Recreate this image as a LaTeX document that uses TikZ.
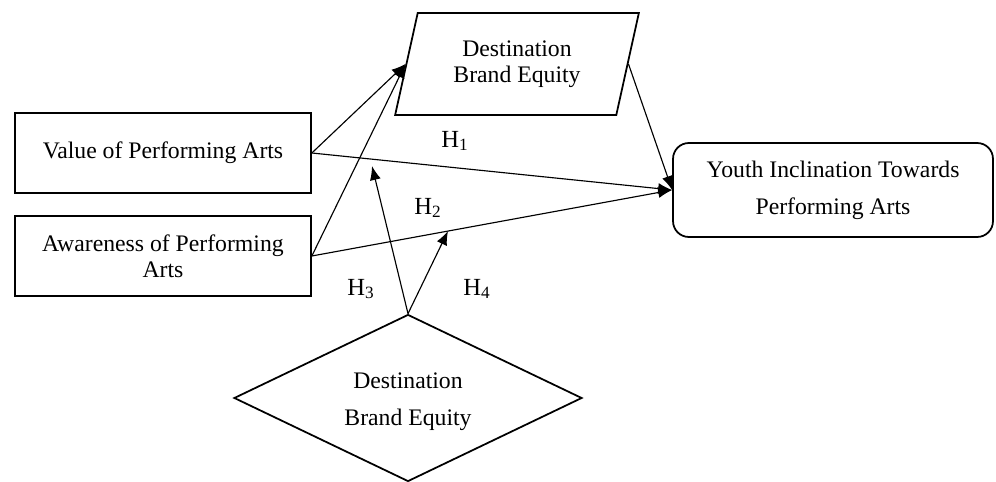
\documentclass[tikz,border=0pt]{standalone}
\usepackage{fontspec}
\setmainfont{Liberation Serif}
\usetikzlibrary{shapes.geometric, arrows.meta, calc}

\begin{document}
\begin{tikzpicture}[
    x=0.02cm, y=-0.02cm,
    every node/.style={font=\fontsize{13.5}{16}\selectfont},
    factor/.style={draw, line width=1pt, minimum width=5.92cm, minimum height=1.6cm, align=center},
    mediator/.style={draw, line width=1pt, trapezium, trapezium left angle=75, trapezium right angle=105,
        trapezium stretches=true, minimum width=4.88cm, minimum height=2.04cm, align=center},
    moderator/.style={draw, line width=1pt, diamond, minimum width=6.96cm, minimum height=3.34cm, inner sep=0pt},
    outcome/.style={draw, line width=1pt, rounded corners=9pt, minimum width=6.4cm, minimum height=1.88cm, align=center},
    hyp/.style={font=\fontsize{14}{16}\selectfont},
    arrow/.style={-{Latex[length=2.8mm, width=2.2mm]}, line width=0.65pt}
]
    \useasboundingbox (0,0) rectangle (996,482);

    % constructs
    \node[factor] (value) at (163,153) {Value of Performing Arts};
    \node[factor] (aware) at (163,256) {Awareness of Performing\\[-1pt] Arts};
    \node[mediator] (equity) at (517,64) {Destination\\[-1pt] Brand Equity};
    \node[outcome] (youth) at (833,190) {Youth Inclination Towards\\[5pt] Performing Arts};
    % diamond keeps its own size, text set on top
    \node[moderator] (moder) at (408,398) {};
    \node[align=center] (modertext) at (408,402) {Destination\\[5pt] Brand Equity};

    % ends of the moderating paths
    \coordinate (h3tip) at (372,166);
    \coordinate (h4tip) at (448,231);

    % direct and mediated paths
    \draw[arrow] (value.east) -- (equity.left side);
    \draw[arrow] (aware.east) -- (equity.left side);
    \draw[arrow] (value.east) -- (youth.west);
    \draw[arrow] (aware.east) -- (youth.west);
    \draw[arrow] (equity.right side) -- (youth.west);

    % moderation
    \draw[arrow] (moder.north) -- (h3tip);
    \draw[arrow] (moder.north) -- (h4tip);

    \node[hyp] (h1) at (455,141) {H\textsubscript{1}};
    \node[hyp] (h2) at (428,208) {H\textsubscript{2}};
    \node[hyp] (h3) at (361,289) {H\textsubscript{3}};
    \node[hyp] (h4) at (477,289) {H\textsubscript{4}};
\end{tikzpicture}
\end{document}
